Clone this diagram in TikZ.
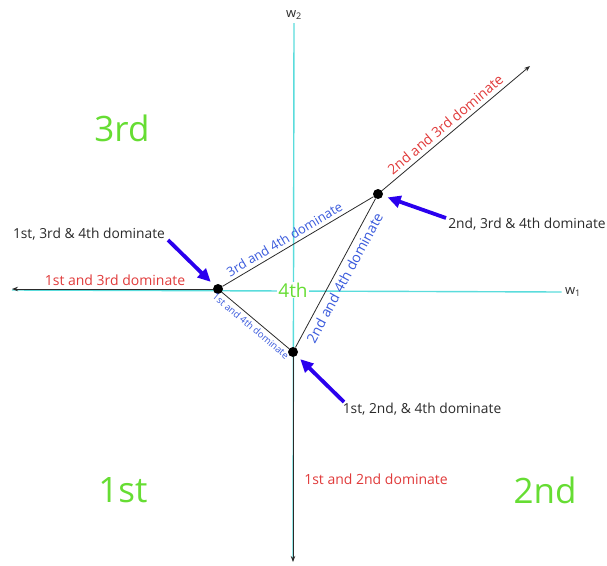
\documentclass[tikz,border=0pt]{standalone}
\usepackage{fontspec}
\setmainfont{Open Sans}
\usetikzlibrary{arrows.meta}
\definecolor{axiscyan}{HTML}{5ADCDC}
\definecolor{regiongreen}{HTML}{66DD33}
\definecolor{domred}{HTML}{E03A3A}
\definecolor{domblue}{HTML}{3A5ADC}
\definecolor{ptrblue}{HTML}{2A00EE}
\definecolor{inkgray}{HTML}{2A2A2A}

\begin{document}
\begin{tikzpicture}[x=1pt, y=-1pt,
  axis/.style = {draw=axiscyan, line width=1.4pt},
  ray/.style = {-{Stealth[length=6pt,width=4.5pt]}, line width=0.8pt, color=inkgray},
  edge/.style = {line width=0.8pt, color=inkgray},
  vertex/.style = {circle, fill=black, inner sep=0pt, minimum size=10pt},
  region/.style = {font=\fontsize{35}{35}\selectfont, text=regiongreen},
  redlbl/.style = {font=\fontsize{14}{14}\selectfont, text=domred, inner sep=2pt},
  bluelbl/.style = {font=\fontsize{13}{13}\selectfont, text=domblue, inner sep=3.5pt},
  lbl/.style = {font=\fontsize{13.8}{14}\selectfont, text=inkgray},
  axlbl/.style = {font=\fontsize{13}{13}\selectfont, text=inkgray},
  ptr/.style = {-{Triangle[length=13pt,width=12pt]}, line width=3.8pt, color=ptrblue, shorten >=5pt},
]
\useasboundingbox (0,0) rectangle (607,565);

% axes
\node[axlbl] (w1) at (573,292) {w\textsubscript{1}};
\node[axlbl] (w2) at (294,15) {w\textsubscript{2}};
\coordinate (w1tail) at (12,290);
\coordinate (w2tail) at (293,560);
\draw[axis] (w1tail) -- (w1.west);
\draw[axis] (w2tail) -- (w2.south);

% regions
\node[region] (r3) at (122,128) {3rd};
\node[region] (r1) at (123,490) {1st};
\node[region] (r2) at (545,490) {2nd};
\node[fill=white, inner sep=1pt, font=\fontsize{19}{19}\selectfont, text=regiongreen] (r4) at (293,290) {4th};

% vertices
\node[vertex] (va) at (218,289) {};
\node[vertex] (vb) at (378,194) {};
\node[vertex] (vc) at (293,352) {};

% rays
\coordinate (ea) at (12,289);
\coordinate (eb) at (530,66);
\coordinate (ec) at (293,562);
\draw[ray] (va) -- (ea);
\draw[ray] (vb) -- node[redlbl, sloped, above, pos=0.47, inner sep=4pt] {2nd and 3rd dominate} (eb);
\draw[ray] (vc) -- (ec);
\node[redlbl] (d13) at (115,280) {1st and 3rd dominate};
\node[redlbl] (d12) at (376,479) {1st and 2nd dominate};

% triangle
\draw[edge] (va) -- node[bluelbl, sloped, above, pos=0.44] {3rd and 4th dominate} (vb);
\draw[edge] (vc) -- node[bluelbl, sloped, below, pos=0.5, font=\fontsize{14}{14}\selectfont, inner sep=4.5pt] {2nd and 4th dominate} (vb);
\draw[edge] (va) -- node[bluelbl, sloped, below, pos=0.5, font=\fontsize{9.6}{10}\selectfont, inner sep=3pt] {1st and 4th dominate} (vc);

% pointers
\node[lbl] (l134) at (89,234) {1st, 3rd \& 4th dominate};
\node[lbl] (l234) at (527,224) {2nd, 3rd \& 4th dominate};
\node[lbl] (l124) at (422,409) {1st, 2nd, \& 4th dominate};
\coordinate (p134) at (168,240);
\coordinate (p234) at (446,218);
\coordinate (p124) at (344,402);
\draw[ptr] (p134) -- (va);
\draw[ptr] (p234) -- (vb);
\draw[ptr] (p124) -- (vc);
\end{tikzpicture}
\end{document}
